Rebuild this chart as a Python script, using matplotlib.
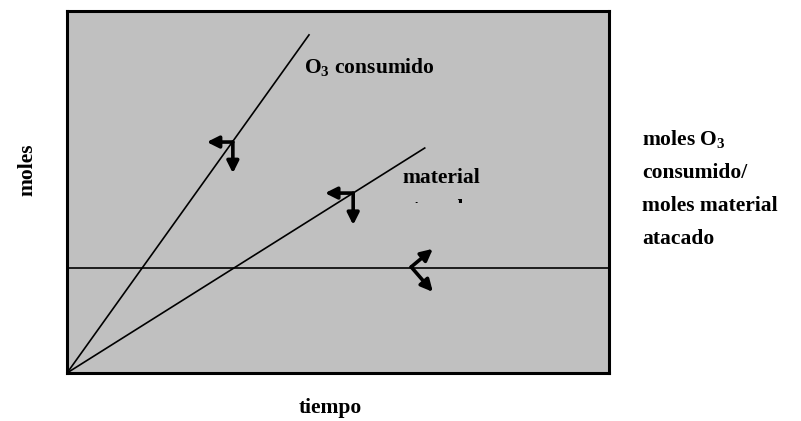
import matplotlib
matplotlib.use('Agg')
import matplotlib.pyplot as plt
from matplotlib.transforms import Bbox

plt.rcParams['font.family'] = ['Liberation Serif', 'DejaVu Serif']
plt.rcParams['font.weight'] = 'bold'
plt.rcParams['mathtext.fontset'] = 'custom'
plt.rcParams['mathtext.bf'] = 'Liberation Serif:bold'
plt.rcParams['mathtext.rm'] = 'Liberation Serif:bold'

# lines (tiempo, moles), scaled 0..1
o3_t = [0.0, 0.4465]
o3_m = [0.0, 0.934]
mat_t = [0.0, 0.660]
mat_m = [0.0, 0.6215]
ratio_t = [0.0, 1.0]
ratio_m = [0.29, 0.29]

# arrow markers: corner, then tips
arrows_left = [
    ((0.306, 0.638), (0.258, 0.638), (0.306, 0.552)),
    ((0.528, 0.497), (0.476, 0.497), (0.528, 0.409)),
]
arrow_right = ((0.635, 0.293), (0.675, 0.343), (0.675, 0.224))

right_lines = ['moles O$_{\\mathbf{3}}$', 'consumido/', 'moles material', 'atacado']

W, H = 801, 421
fs = 15.5
fig = plt.figure(figsize=(W / 100, H / 100), dpi=100)
ax = fig.add_axes([67 / W, (H - 373) / H, 542 / W, 362 / H])
ax.set_facecolor('#c0c0c0')
ax.set_xlim(0, 1)
ax.set_ylim(0, 1)
ax.set_xticks([])
ax.set_yticks([])
for s in ax.spines.values():
    s.set_linewidth(2.2)
    s.set_color('black')

ax.plot(o3_t, o3_m, color='black', lw=1.2)
ax.plot(mat_t, mat_m, color='black', lw=1.2)
ax.plot(ratio_t, ratio_m, color='black', lw=1.2)

astyle = dict(arrowstyle='-|>,head_width=0.35,head_length=0.7', lw=2.6,
              color='black', shrinkA=0, shrinkB=0)
for corner, tip1, tip2 in arrows_left:
    ax.annotate('', xy=tip1, xytext=corner, arrowprops=astyle)
    ax.annotate('', xy=tip2, xytext=corner, arrowprops=astyle)
v, t1, t2 = arrow_right
ax.annotate('', xy=t1, xytext=v, arrowprops=astyle)
ax.annotate('', xy=t2, xytext=v, arrowprops=astyle)

# pixel helpers
def fx(px):
    return px / W

def fy(py):
    return 1 - py / H

fig.text(fx(304), fy(73), r'O$_{\mathbf{3}}$ consumido', fontsize=fs,
         fontweight='bold', va='baseline', ha='left')
fig.text(fx(402), fy(183), 'material', fontsize=fs, fontweight='bold',
         va='baseline', ha='left')
# second line of this label is cut off in the original box
hidden = fig.text(fx(402), fy(214), 'atacado', fontsize=fs, fontweight='bold',
                  va='baseline', ha='left')
hidden.set_clip_box(Bbox.from_extents(395, H - 203, 500, H - 196))
hidden.set_clip_on(True)

fig.text(fx(27), fy(170), 'moles', rotation=90, fontsize=fs,
         fontweight='bold', ha='center', va='center')
fig.text(fx(330), fy(413), 'tiempo', fontsize=fs, fontweight='bold',
         ha='center', va='baseline')
for i, line in enumerate(right_lines):
    fig.text(fx(642), fy(145 + 33 * i), line, fontsize=fs, fontweight='bold',
             ha='left', va='baseline')

fig.savefig('out.png', dpi=100)
